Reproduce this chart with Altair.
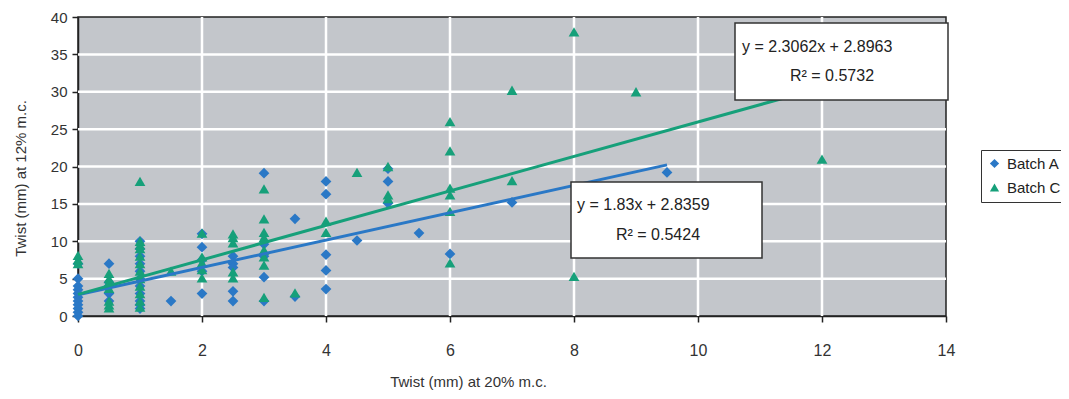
import altair as alt
import pandas as pd

# ---- data ----
series = ["Batch A", "Batch C"]

a_x = [0, 0, 0, 0, 0, 0, 0, 0, 0, 0, 0,
       0.5, 0.5, 0.5, 0.5, 0.5,
       1, 1, 1, 1, 1, 1, 1, 1, 1, 1, 1,
       1.5,
       2, 2, 2, 2, 2,
       2.5, 2.5, 2.5, 2.5, 2.5,
       3, 3, 3, 3, 3,
       3.5, 3.5,
       4, 4, 4, 4, 4,
       4.5,
       5, 5, 5,
       5.5, 6, 7, 9.5]
a_y = [0, 0.5, 1, 1.5, 2, 2.5, 3, 3.5, 4, 5, 7,
       7, 4.5, 4, 3, 2,
       10, 9, 8, 7, 6, 5, 4, 3, 2, 1.5, 1,
       2,
       11, 9.2, 7.5, 6, 3,
       8, 7, 6.5, 3.3, 2,
       19.1, 9.6, 8, 5.2, 2,
       13, 2.6,
       18, 16.3, 8.2, 6.1, 3.6,
       10.1,
       19.7, 18, 15.1,
       11.1, 8.3, 15.2, 19.2]

c_x = [0, 0, 0,
       0.5, 0.5, 0.5, 0.5, 0.5, 0.5, 0.5,
       1, 1, 1, 1, 1, 1, 1, 1, 1, 1, 1, 1,
       1.5,
       2, 2, 2, 2, 2,
       2.5, 2.5, 2.5, 2.5, 2.5,
       3, 3, 3, 3, 3, 3, 3, 3,
       3.5,
       4, 4,
       4.5,
       5, 5, 5,
       6, 6, 6, 6, 6, 6,
       7, 7,
       8, 8,
       9, 12]
c_y = [8.1, 7.5, 7,
       5.7, 5, 4.5, 3.7, 2, 1.5, 1.1,
       18, 10, 9.5, 9, 8, 7, 6, 5, 4, 3, 2, 1.2,
       6,
       11.1, 7.9, 7.1, 6.2, 5.1,
       11, 10.5, 9.8, 5.9, 5.1,
       17, 13, 11.2, 10.5, 8.8, 7.9, 6.8, 2.5,
       3.1,
       12.7, 11.2,
       19.2,
       20, 16.2, 15.7,
       26, 22.1, 17.1, 16.2, 14, 7.1,
       30.2, 18.1,
       38, 5.3,
       30, 21]

# trendlines (as printed on the chart)
slopes = [1.83, 2.3062]
intercepts = [2.8359, 2.8963]
x_ends = [9.5, 12]
r2 = ["0.5424", "0.5732"]
slope_txt = ["1.83", "2.3062"]
icpt_txt = ["2.8359", "2.8963"]

x_ticks = [0, 2, 4, 6, 8, 10, 12, 14]
y_ticks = [0, 5, 10, 15, 20, 25, 30, 35, 40]
x_grid = [2, 4, 6, 8, 10, 12]
y_grid = [5, 10, 15, 20, 25, 30, 35]

# ---- tables ----
pts = pd.concat([
    pd.DataFrame({"x": a_x, "y": a_y, "s": series[0], "o": 0}),
    pd.DataFrame({"x": c_x, "y": c_y, "s": series[1], "o": 1}),
], ignore_index=True)

lines = pd.DataFrame({
    "x": [0, x_ends[0], 0, x_ends[1]],
    "y": [intercepts[0], slopes[0] * x_ends[0] + intercepts[0],
          intercepts[1], slopes[1] * x_ends[1] + intercepts[1]],
    "s": [series[0], series[0], series[1], series[1]],
})

W, H = 868, 299
BLUE = "#2a78c6"
GREEN = "#16a07a"
TXT = "Liberation Sans, Arial, sans-serif"
NARROW = "Liberation Sans Narrow, Liberation Sans, Arial, sans-serif"

xs = alt.Scale(domain=[0, 14], nice=False, zero=False)
ys = alt.Scale(domain=[0, 40], nice=False, zero=False)
col = alt.Scale(domain=series, range=[BLUE, GREEN])
shp = alt.Scale(domain=series, range=["diamond", "triangle-up"])

x_axis = alt.Axis(values=x_ticks, format="d", title="Twist (mm) at 20% m.c.", grid=False,
                  titleX=390, titleY=65, titleAlign="center", titleBaseline="middle",
                  titleFont=NARROW, titleFontSize=15, titleFontWeight="normal",
                  titleColor="#333", labelOverlap=False,
                  labelFont=NARROW, labelFontSize=16, labelColor="#333",
                  labelPadding=20, tickSize=6, labelFlush=False)
y_axis = alt.Axis(values=y_ticks, format="d", title="Twist (mm) at 12% m.c.", grid=False,
                  titleX=-58, titleY=161, titleAlign="center", titleBaseline="middle",
                  titleFont=NARROW, titleFontSize=15, titleFontWeight="normal",
                  titleColor="#333", labelOverlap=False,
                  labelFont=TXT, labelFontSize=15, labelColor="#333",
                  labelPadding=5, tickSize=6, labelFlush=False)

gx = alt.Chart(pd.DataFrame({"v": x_grid})).mark_rule(color="white", strokeWidth=2.5).encode(
    x=alt.X("v:Q", scale=xs, axis=x_axis))
gy = alt.Chart(pd.DataFrame({"v": y_grid})).mark_rule(color="white", strokeWidth=2.5).encode(
    y=alt.Y("v:Q", scale=ys, axis=y_axis))

points = alt.Chart(pts).mark_point(filled=True, opacity=1, size=115).encode(
    x=alt.X("x:Q", scale=xs, axis=x_axis),
    y=alt.Y("y:Q", scale=ys, axis=y_axis),
    color=alt.Color("s:N", scale=col,
                    legend=alt.Legend(title=None, orient="none", legendX=903, legendY=133,
                                      labelFont=TXT, labelFontSize=15, labelColor="#222",
                                      symbolSize=85, strokeColor="#333", fillColor="white",
                                      padding=6, rowPadding=8, labelOffset=5,
                                      symbolStrokeWidth=0)),
    shape=alt.Shape("s:N", scale=shp, legend=alt.Legend(title=None)),
    order=alt.Order("o:Q"),
)

trend = alt.Chart(lines).mark_line(strokeWidth=3).encode(
    x=alt.X("x:Q", scale=xs, axis=x_axis),
    y=alt.Y("y:Q", scale=ys, axis=y_axis),
    color=alt.Color("s:N", scale=col, legend=None),
    detail="s:N",
)

one = pd.DataFrame({"k": [0]})

def box(x1, x2, y1, y2):
    return alt.Chart(one).mark_rect(fill="white", stroke="#333", strokeWidth=1.5).encode(
        x=alt.value(x1), x2=alt.value(x2), y=alt.value(y1), y2=alt.value(y2))

def label(txt, x, y, align):
    return alt.Chart(pd.DataFrame({"t": [txt]})).mark_text(
        font=TXT, fontSize=16, color="#222", align=align, baseline="middle").encode(
        text="t:N", x=alt.value(x), y=alt.value(y))

ann = [
    box(657, 870, 6, 83),
    label(f"y = {slope_txt[1]}x + {icpt_txt[1]}", 664, 30, "left"),
    label(f"R\u00b2 = {r2[1]}", 754, 59, "center"),
    box(493, 684, 165, 241),
    label(f"y = {slope_txt[0]}x + {icpt_txt[0]}", 499, 188, "left"),
    label(f"R\u00b2 = {r2[0]}", 580, 218, "center"),
]

chart = alt.layer(gx, gy, points, trend, *ann).resolve_scale(
    color="shared", shape="shared"
).properties(
    width=W, height=H,
    autosize=alt.AutoSizeParams(type="none"),
    padding={"left": 70, "top": 9, "right": 115, "bottom": 75},
    background="white",
).configure_view(
    fill="#c3c6cb", stroke="#222", strokeWidth=1.5
).configure_axis(
    domainColor="#222", domainWidth=1.5, tickColor="#222", tickWidth=1.5
)

chart.save("out.html", embed_options={"renderer": "svg", "actions": False})
